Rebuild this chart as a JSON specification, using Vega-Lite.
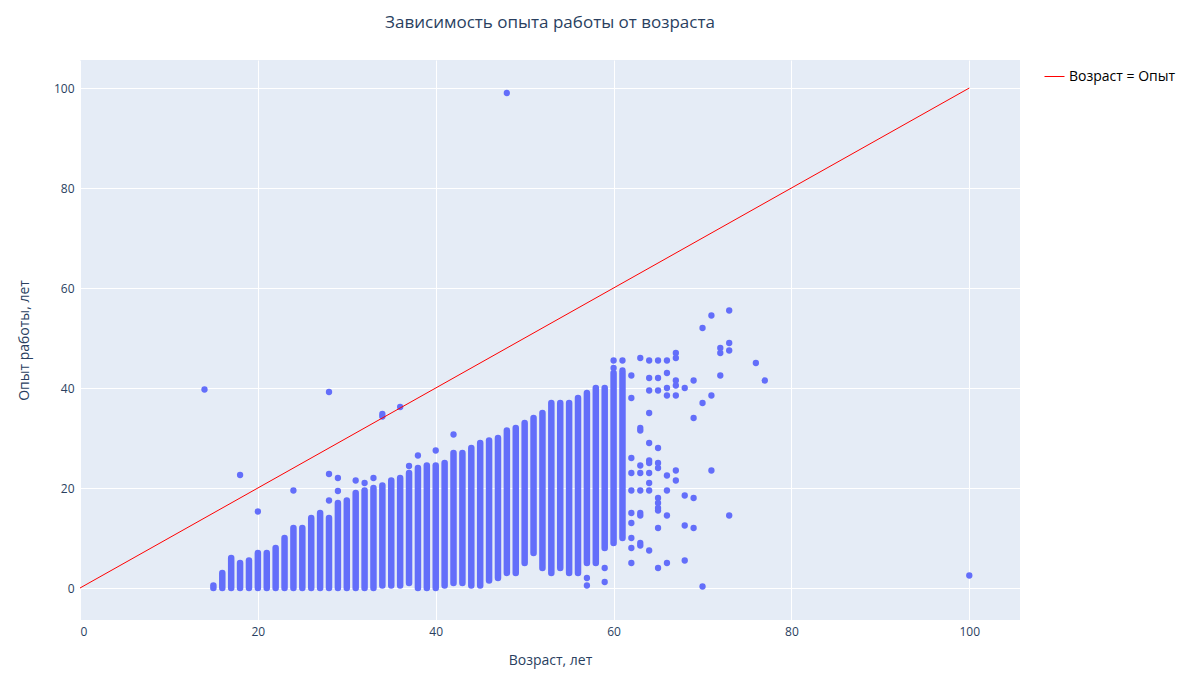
{
  "$schema": "https://vega.github.io/schema/vega-lite/v6.json",
  "autosize": "none",
  "width": 940,
  "height": 560,
  "padding": {"left": 80, "top": 60, "right": 180, "bottom": 80},
  "background": "white",
  "title": {"text": "Зависимость опыта работы от возраста", "fontSize": 17, "font": "Open Sans", "fontWeight": "normal", "color": "#2a3f5f", "offset": 28},
  "config": {
    "view": {"fill": "#e5ecf6", "stroke": null},
    "font": "Open Sans",
    "axis": {"gridColor": "white", "gridWidth": 1, "domain": false, "ticks": false, "labelFont": "Open Sans", "labelFontSize": 12, "labelColor": "#2a3f5f", "titleFont": "Open Sans", "titleFontSize": 14, "titleFontWeight": "normal", "titleColor": "#2a3f5f"}
  },
  "datasets": {
    "columns": [
      {"age": 15, "lo": 0, "hi": 0.5}, {"age": 16, "lo": 0, "hi": 3}, {"age": 17, "lo": 0, "hi": 6},
      {"age": 18, "lo": 0, "hi": 5}, {"age": 19, "lo": 0, "hi": 5.5}, {"age": 20, "lo": 0, "hi": 7},
      {"age": 21, "lo": 0, "hi": 7}, {"age": 22, "lo": 0, "hi": 8}, {"age": 23, "lo": 0, "hi": 10},
      {"age": 24, "lo": 0, "hi": 12}, {"age": 25, "lo": 0, "hi": 12}, {"age": 26, "lo": 0, "hi": 14},
      {"age": 27, "lo": 0, "hi": 15}, {"age": 28, "lo": 0, "hi": 14}, {"age": 29, "lo": 0, "hi": 17},
      {"age": 30, "lo": 0, "hi": 17.5}, {"age": 31, "lo": 0, "hi": 19}, {"age": 32, "lo": 0, "hi": 19.5},
      {"age": 33, "lo": 0, "hi": 20}, {"age": 34, "lo": 0.5, "hi": 20.5}, {"age": 35, "lo": 0.5, "hi": 21.5},
      {"age": 36, "lo": 0.5, "hi": 22}, {"age": 37, "lo": 1, "hi": 23}, {"age": 38, "lo": 0, "hi": 24},
      {"age": 39, "lo": 0, "hi": 24.5}, {"age": 40, "lo": 0, "hi": 24.5}, {"age": 41, "lo": 0.5, "hi": 25},
      {"age": 42, "lo": 1, "hi": 27}, {"age": 43, "lo": 1, "hi": 27}, {"age": 44, "lo": 0.5, "hi": 28},
      {"age": 45, "lo": 0.5, "hi": 29}, {"age": 46, "lo": 1.5, "hi": 29.5}, {"age": 47, "lo": 2, "hi": 30},
      {"age": 48, "lo": 3, "hi": 31.5}, {"age": 49, "lo": 3, "hi": 32}, {"age": 50, "lo": 5, "hi": 33},
      {"age": 51, "lo": 7, "hi": 34}, {"age": 52, "lo": 4, "hi": 35}, {"age": 53, "lo": 3, "hi": 37},
      {"age": 54, "lo": 4, "hi": 37}, {"age": 55, "lo": 3, "hi": 37}, {"age": 56, "lo": 3, "hi": 38},
      {"age": 57, "lo": 5, "hi": 39}, {"age": 58, "lo": 5, "hi": 40}, {"age": 59, "lo": 8, "hi": 40},
      {"age": 60, "lo": 9, "hi": 43}, {"age": 61, "lo": 10, "hi": 43}
    ],
    "points": [
      {"age": 14, "exp": 39.7}, {"age": 18, "exp": 22.6}, {"age": 20, "exp": 15.3}, {"age": 24, "exp": 19.5},
      {"age": 28, "exp": 39.2}, {"age": 28, "exp": 22.8}, {"age": 28, "exp": 17.5}, {"age": 29, "exp": 22},
      {"age": 29, "exp": 19.4}, {"age": 31, "exp": 21.5}, {"age": 32, "exp": 21}, {"age": 33, "exp": 22},
      {"age": 34, "exp": 34.8}, {"age": 34, "exp": 34.3}, {"age": 36, "exp": 36.2}, {"age": 37, "exp": 24.4},
      {"age": 38, "exp": 26.5}, {"age": 40, "exp": 27.5}, {"age": 42, "exp": 30.7}, {"age": 48, "exp": 99},
      {"age": 100, "exp": 2.5}, {"age": 57, "exp": 2}, {"age": 57, "exp": 0.5}, {"age": 59, "exp": 4},
      {"age": 59, "exp": 1.2}, {"age": 60, "exp": 45.5}, {"age": 60, "exp": 44},
      {"age": 61, "exp": 45.5}, {"age": 61, "exp": 43.5}, {"age": 62, "exp": 42.5}, {"age": 62, "exp": 38},
      {"age": 63, "exp": 46}, {"age": 64, "exp": 45.5}, {"age": 64, "exp": 42}, {"age": 64, "exp": 39.5},
      {"age": 64, "exp": 35}, {"age": 65, "exp": 45.5}, {"age": 65, "exp": 42}, {"age": 65, "exp": 39.5},
      {"age": 66, "exp": 45.5}, {"age": 66, "exp": 43}, {"age": 66, "exp": 40}, {"age": 66, "exp": 38.5},
      {"age": 67, "exp": 47}, {"age": 67, "exp": 46}, {"age": 67, "exp": 41.5}, {"age": 67, "exp": 40.5},
      {"age": 67, "exp": 38.5}, {"age": 68, "exp": 40}, {"age": 69, "exp": 41.5}, {"age": 69, "exp": 34},
      {"age": 70, "exp": 37}, {"age": 71, "exp": 38.5}, {"age": 70, "exp": 52}, {"age": 71, "exp": 54.5},
      {"age": 72, "exp": 48}, {"age": 72, "exp": 47}, {"age": 72, "exp": 42.5}, {"age": 73, "exp": 55.5},
      {"age": 73, "exp": 49}, {"age": 73, "exp": 47.5}, {"age": 76, "exp": 45}, {"age": 77, "exp": 41.5},
      {"age": 62, "exp": 26}, {"age": 62, "exp": 23}, {"age": 62, "exp": 19.5}, {"age": 62, "exp": 15},
      {"age": 62, "exp": 13}, {"age": 62, "exp": 10}, {"age": 62, "exp": 8}, {"age": 62, "exp": 5},
      {"age": 63, "exp": 32}, {"age": 63, "exp": 31.5}, {"age": 63, "exp": 24.5}, {"age": 63, "exp": 23},
      {"age": 63, "exp": 19.5}, {"age": 63, "exp": 15}, {"age": 63, "exp": 14.5}, {"age": 63, "exp": 9},
      {"age": 63, "exp": 8.5}, {"age": 64, "exp": 29}, {"age": 64, "exp": 25.5}, {"age": 64, "exp": 25},
      {"age": 64, "exp": 23}, {"age": 64, "exp": 21}, {"age": 64, "exp": 19.5}, {"age": 64, "exp": 7.5},
      {"age": 65, "exp": 28}, {"age": 65, "exp": 25}, {"age": 65, "exp": 24}, {"age": 65, "exp": 18},
      {"age": 65, "exp": 17}, {"age": 65, "exp": 16}, {"age": 65, "exp": 15.5}, {"age": 65, "exp": 12},
      {"age": 65, "exp": 4}, {"age": 66, "exp": 22.5}, {"age": 66, "exp": 19.5}, {"age": 66, "exp": 14.5},
      {"age": 66, "exp": 5}, {"age": 67, "exp": 23.5}, {"age": 67, "exp": 21.5}, {"age": 68, "exp": 5.5},
      {"age": 68, "exp": 12.5}, {"age": 68, "exp": 18.5}, {"age": 69, "exp": 18}, {"age": 69, "exp": 12},
      {"age": 70, "exp": 0.3}, {"age": 71, "exp": 23.5}, {"age": 73, "exp": 14.5}
    ],
    "diag": [
      {"age": 0, "exp": 0, "name": "Возраст = Опыт"},
      {"age": 100, "exp": 100, "name": "Возраст = Опыт"}
    ]
  },
  "layer": [
    {
      "data": {"name": "columns"},
      "mark": {"type": "rule", "color": "#636efa", "strokeWidth": 6.5, "strokeCap": "round"},
      "encoding": {
        "x": {"field": "age", "type": "quantitative", "scale": {"domain": [0, 105.7], "nice": false, "zero": false}, "axis": {"values": [0, 20, 40, 60, 80, 100], "title": "Возраст, лет", "titlePadding": 16, "labelPadding": 6}},
        "y": {"field": "lo", "type": "quantitative", "scale": {"domain": [-6.4, 105.6], "nice": false, "zero": false}, "axis": {"values": [0, 20, 40, 60, 80, 100], "title": "Опыт работы, лет", "titlePadding": 22, "labelPadding": 6}},
        "y2": {"field": "hi"}
      }
    },
    {
      "data": {"name": "points"},
      "mark": {"type": "circle", "color": "#636efa", "size": 40, "opacity": 1},
      "encoding": {
        "x": {"field": "age", "type": "quantitative"},
        "y": {"field": "exp", "type": "quantitative"}
      }
    },
    {
      "data": {"name": "diag"},
      "mark": {"type": "line", "strokeWidth": 1},
      "encoding": {
        "x": {"field": "age", "type": "quantitative"},
        "y": {"field": "exp", "type": "quantitative"},
        "color": {
          "field": "name", "type": "nominal",
          "scale": {"range": ["red"]},
          "legend": {"title": null, "orient": "none", "legendX": 964, "legendY": 6, "labelFontSize": 14, "labelFont": "Open Sans", "labelColor": "black", "symbolType": "stroke", "symbolSize": 400, "symbolStrokeWidth": 1}
        }
      }
    }
  ]
}
